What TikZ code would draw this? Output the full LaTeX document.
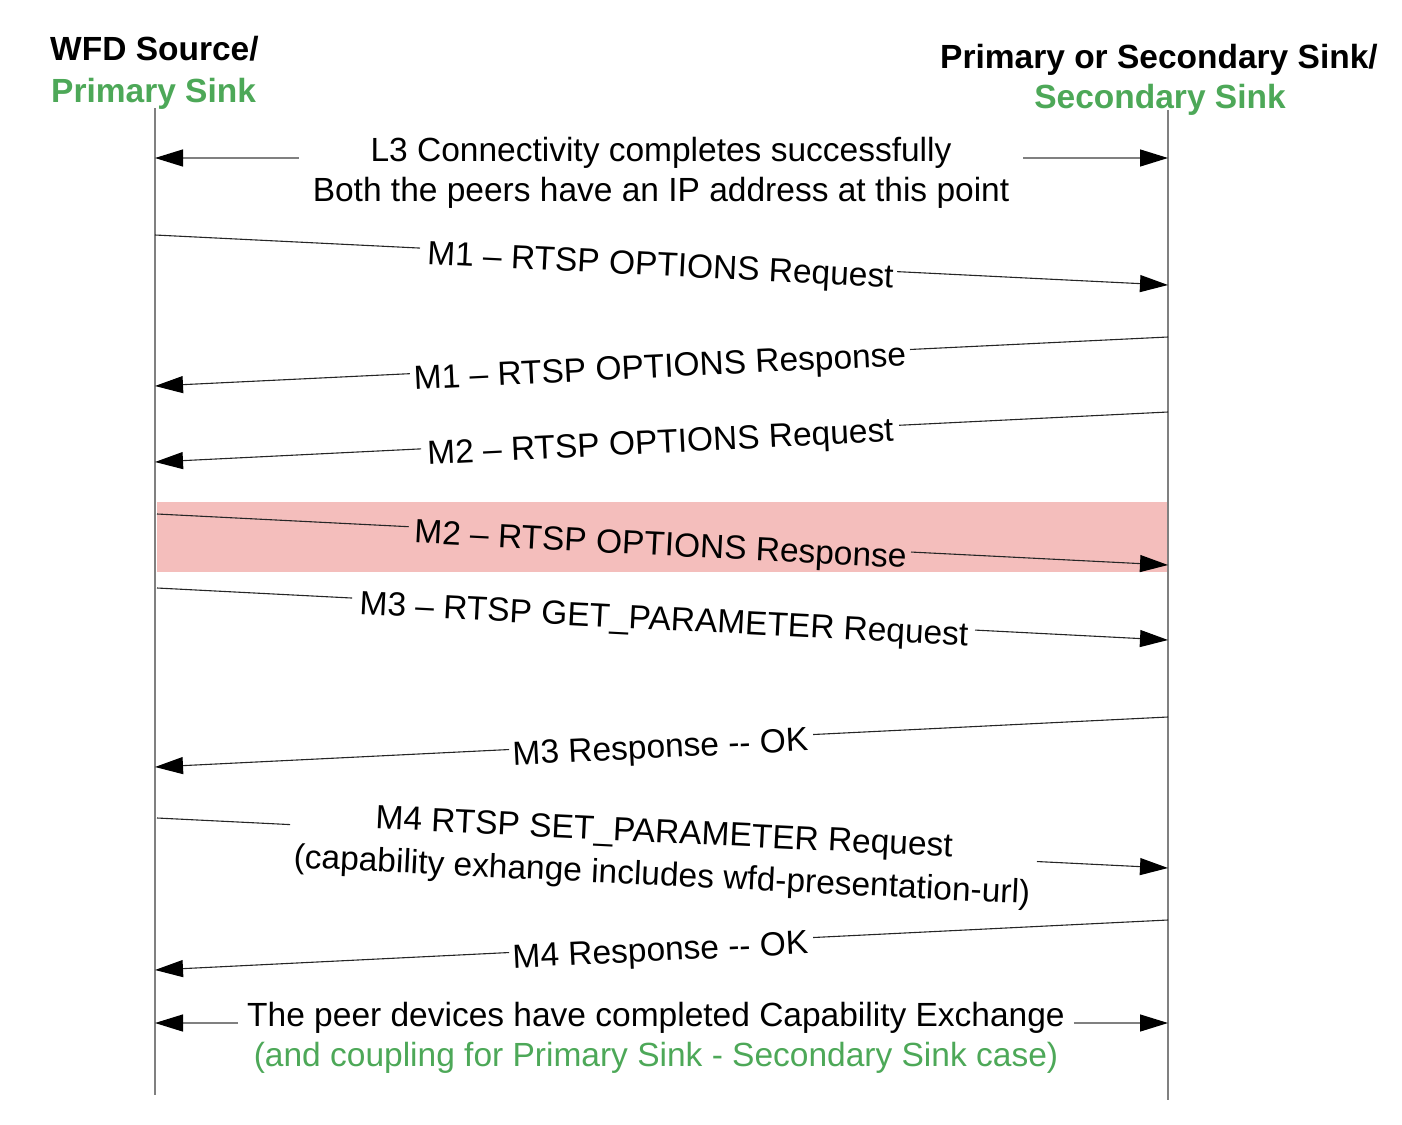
\documentclass[tikz,border=0pt]{standalone}
\usepackage{fontspec}
\setmainfont{Liberation Sans}
\usetikzlibrary{arrows.meta,calc}
\definecolor{wfdgreen}{RGB}{77,168,88}
\definecolor{bandpink}{RGB}{244,190,188}
\definecolor{lifegray}{RGB}{128,128,128}
\tikzset{
  lifeline/.style={draw=lifegray, line width=1.5pt},
  msgline/.style={draw=black!85, line width=1.1pt},
  msgarrow/.style={msgline, -{Triangle[length=28pt,width=17pt,color=black]}},
  barline/.style={draw=lifegray, line width=1.3pt},
  bararrow/.style={barline, -{Triangle[length=28pt,width=17pt,color=black]}},
  msgtext/.style={font=\fontsize{33.5}{40}\selectfont, inner sep=0pt},
  headtext/.style={font=\fontsize{33.5}{40}\selectfont\bfseries, inner sep=0pt},
}
\begin{document}
\begin{tikzpicture}[x=1pt,y=-1pt]
\useasboundingbox (0,0) rectangle (1402,1124);

% highlighted band
\fill[bandpink] (157,502) rectangle (1168,572);

% headers
\node[headtext, anchor=base west] (src1) at (50,61) {WFD Source/};
\node[headtext, anchor=base west, text=wfdgreen] (src2) at (51,102) {Primary Sink};
\node[headtext, anchor=base] (snk1) at (1159,69) {Primary or Secondary Sink/};
\node[headtext, anchor=base, text=wfdgreen] (snk2) at (1160,108) {Secondary Sink};

% lifelines
\coordinate (Ltop) at (155,108);
\coordinate (Lbot) at (155,1095);
\coordinate (Rtop) at (1168,110);
\coordinate (Rbot) at (1168,1100);
\draw[lifeline] (Ltop) -- (Lbot);
\draw[lifeline] (Rtop) -- (Rbot);

% L3 connectivity
\coordinate (l3L) at (155,158);
\coordinate (l3R) at (1168,158);
\node[msgtext, align=center, inner xsep=14pt] (l3) at (661,173)
  {L3 Connectivity completes successfully\\Both the peers have an IP address at this point};
\draw[bararrow] (l3.west |- l3L) -- (l3L);
\draw[bararrow] (l3.east |- l3R) -- (l3R);

% M1 request
\coordinate (m1qA) at (155,235);
\coordinate (m1qB) at (1168,285);
\node[msgtext, anchor=base, rotate=-2.83] (m1q) at (660,276) {M1 – RTSP OPTIONS Request};
\draw[msgline] (m1qA) -- ($(m1qA)!0.2616!(m1qB)$);
\draw[msgarrow] ($(m1qA)!0.7325!(m1qB)$) -- (m1qB);

% M1 response
\coordinate (m1rA) at (1168,337);
\coordinate (m1rB) at (155,386);
\node[msgtext, anchor=base, rotate=2.77] (m1r) at (660.5,377.5) {M1 – RTSP OPTIONS Response};
\draw[msgline] (m1rA) -- ($(m1rA)!0.2547!(m1rB)$);
\draw[msgarrow] ($(m1rA)!0.7483!(m1rB)$) -- (m1rB);

% M2 request
\coordinate (m2qA) at (1168,412);
\coordinate (m2qB) at (155,462);
\node[msgtext, anchor=base, rotate=2.83] (m2q) at (661,453) {M2 – RTSP OPTIONS Request};
\draw[msgline] (m2qA) -- ($(m2qA)!0.2655!(m2qB)$);
\draw[msgarrow] ($(m2qA)!0.7374!(m2qB)$) -- (m2qB);

% M2 response (highlighted)
\coordinate (m2rA) at (157,514);
\coordinate (m2rB) at (1168,565);
\node[msgtext, anchor=base, rotate=-2.89] (m2r) at (660,555.4) {M2 – RTSP OPTIONS Response};
\draw[msgline] (m2rA) -- ($(m2rA)!0.249!(m2rB)$);
\draw[msgarrow] ($(m2rA)!0.7458!(m2rB)$) -- (m2rB);

% M3 request
\coordinate (m3qA) at (157,588);
\coordinate (m3qB) at (1168,640);
\node[msgtext, anchor=base, rotate=-2.94] (m3q) at (663.5,630) {M3 – RTSP GET\_PARAMETER Request};
\draw[msgline] (m3qA) -- ($(m3qA)!0.1929!(m3qB)$);
\draw[msgarrow] ($(m3qA)!0.8091!(m3qB)$) -- (m3qB);

% M3 response
\coordinate (m3rA) at (1168,717);
\coordinate (m3rB) at (155,767);
\node[msgtext, anchor=base, rotate=2.83] (m3r) at (661,758) {M3 Response -{}- OK};
\draw[msgline] (m3rA) -- ($(m3rA)!0.3504!(m3rB)$);
\draw[msgarrow] ($(m3rA)!0.6505!(m3rB)$) -- (m3rB);

% M4 request
\coordinate (m4qA) at (157,818);
\coordinate (m4qB) at (1168,868);
\node[msgtext, font=\fontsize{33.5}{43}\selectfont, align=center, rotate=-2.83] (m4q) at (663,856)
  {M4 RTSP SET\_PARAMETER Request\\(capability exhange includes wfd-presentation-url)};
\draw[msgline] (m4qA) -- ($(m4qA)!0.1316!(m4qB)$);
\draw[msgarrow] ($(m4qA)!0.8704!(m4qB)$) -- (m4qB);

% M4 response
\coordinate (m4rA) at (1168,920);
\coordinate (m4rB) at (155,970);
\node[msgtext, anchor=base, rotate=2.83] (m4r) at (661,961) {M4 Response -{}- OK};
\draw[msgline] (m4rA) -- ($(m4rA)!0.3504!(m4rB)$);
\draw[msgarrow] ($(m4rA)!0.6505!(m4rB)$) -- (m4rB);

% completion
\coordinate (finL) at (155,1023);
\coordinate (finR) at (1168,1023);
\node[msgtext, align=center, inner xsep=9pt] (fin) at (656,1038)
  {The peer devices have completed Capability Exchange\\\textcolor{wfdgreen}{(and coupling for Primary Sink - Secondary Sink case)}};
\draw[bararrow] (fin.west |- finL) -- (finL);
\draw[bararrow] (fin.east |- finR) -- (finR);
\end{tikzpicture}
\end{document}
